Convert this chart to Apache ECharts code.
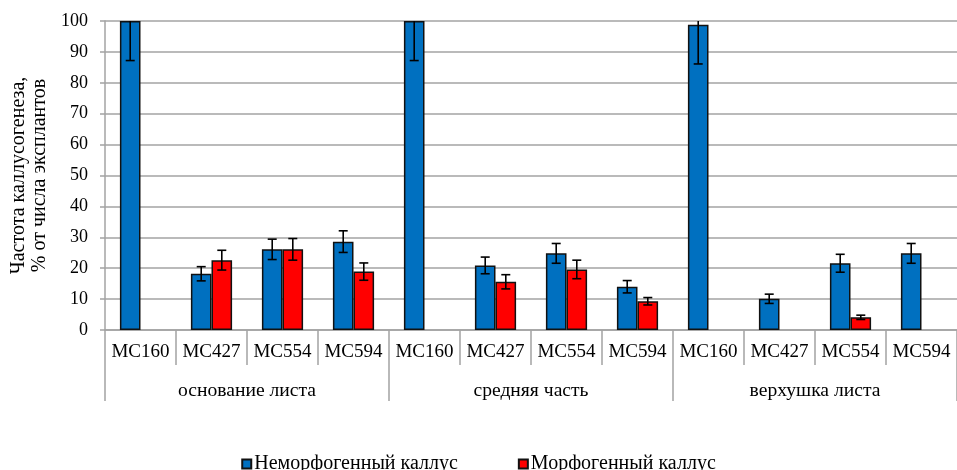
<!DOCTYPE html>
<html>
<head>
<meta charset="utf-8">
<script src="https://cdn.jsdelivr.net/npm/echarts@6/dist/echarts.min.js"></script>
<style>
  html, body { margin: 0; padding: 0; background: #ffffff; }
  #chart { width: 957px; height: 470px; }
</style>
</head>
<body>
<div id="chart"></div>
<script>
// Cultivars shown within each leaf zone
const cultivars = ['MC160', 'MC427', 'MC554', 'MC594',
                   'MC160', 'MC427', 'MC554', 'MC594',
                   'MC160', 'MC427', 'MC554', 'MC594'];
// Leaf zones (outer category level)
const leafZones = ['основание листа', 'средняя часть', 'верхушка листа'];

// Callus frequency, % of explants
const nonMorphogenic    = [100, 18.2, 26.1, 28.6, 100, 20.9, 24.8, 14.0, 98.8, 10.1, 21.6, 24.8];
const nonMorphogenicErr = [12.8, 2.3, 3.3, 3.5, 12.8, 2.7, 3.2, 2.0, 12.7, 1.5, 2.9, 3.2];
const morphogenic       = [null, 22.6, 26.1, 18.9, null, 15.6, 19.6, 9.3, null, null, 4.1, null];
const morphogenicErr    = [null, 3.2, 3.5, 2.8, null, 2.3, 3.0, 1.2, null, null, 0.7, null];

const yTicks = { min: 0, max: 100, step: 10 };
const seriesNames = ['Неморфогенный каллус', 'Морфогенный каллус'];

const FONT = 'Liberation Serif';
const GRID_COLOR = '#a3a3a3';
const BAR_RATIO = 0.29;

// Error bars centred on each of the two bars in a category
function errorBars(values, errors, side) {
  const data = [];
  values.forEach(function (v, i) {
    if (v != null && errors[i] != null) data.push([i, v - errors[i], v + errors[i]]);
  });
  return {
    type: 'custom',
    clip: true,
    z: 5,
    silent: true,
    data: data,
    encode: { x: 0, y: [1, 2] },
    renderItem: function (params, api) {
      const i = api.value(0);
      const lo = api.coord([i, api.value(1)]);
      const hi = api.coord([i, api.value(2)]);
      const band = api.size([1, 0])[0];
      const x = lo[0] + side * band * BAR_RATIO / 2;
      const cap = 4.5;
      const style = { stroke: '#000', lineWidth: 1.6 };
      return {
        type: 'group',
        children: [
          { type: 'line', shape: { x1: x, y1: lo[1], x2: x, y2: hi[1] }, style: style },
          { type: 'line', shape: { x1: x - cap, y1: lo[1], x2: x + cap, y2: lo[1] }, style: style },
          { type: 'line', shape: { x1: x - cap, y1: hi[1], x2: x + cap, y2: hi[1] }, style: style }
        ]
      };
    }
  };
}

const chart = echarts.init(document.getElementById('chart'), null, { renderer: 'canvas' });

chart.setOption({
  animation: false,
  backgroundColor: '#ffffff',
  textStyle: { fontFamily: FONT, color: '#000' },
  grid: { left: 105, top: 21, width: 864, height: 309, containLabel: false },
  legend: {
    data: seriesNames,
    left: 'center',
    top: 449,
    itemWidth: 9,
    itemHeight: 9,
    itemGap: 60,
    icon: 'rect',
    textStyle: { fontFamily: FONT, fontSize: 20, color: '#000', padding: [0, 0, 0, -2] }
  },
  xAxis: [
    {
      type: 'category',
      data: cultivars,
      position: 'bottom',
      axisLine: { lineStyle: { color: GRID_COLOR, width: 1.5 } },
      axisTick: { show: true, interval: 0, length: 35, lineStyle: { color: GRID_COLOR, width: 1.5 } },
      axisLabel: { interval: 0, fontFamily: FONT, fontSize: 19, color: '#000', margin: 13 },
      splitLine: { show: false }
    },
    {
      type: 'category',
      data: leafZones,
      position: 'bottom',
      axisLine: { show: false },
      axisTick: { show: true, interval: 0, length: 71, lineStyle: { color: GRID_COLOR, width: 1.5 } },
      axisLabel: { interval: 0, fontFamily: FONT, fontSize: 19.6, color: '#000', margin: 51 },
      splitLine: { show: false }
    }
  ],
  yAxis: {
    type: 'value',
    min: yTicks.min,
    max: yTicks.max,
    interval: yTicks.step,
    name: 'Частота каллусогенеза,\n% от числа эксплантов',
    nameLocation: 'middle',
    nameRotate: 90,
    nameGap: 47,
    nameTextStyle: { fontFamily: FONT, fontSize: 20, color: '#000', lineHeight: 21, align: 'center' },
    axisLine: { show: true, lineStyle: { color: GRID_COLOR, width: 1.5 } },
    axisTick: { show: true, length: 5, lineStyle: { color: GRID_COLOR, width: 1.5 } },
    axisLabel: { fontFamily: FONT, fontSize: 18, color: '#000', margin: 17 },
    splitLine: { show: true, lineStyle: { color: GRID_COLOR, width: 1.5 } }
  },
  series: [
    {
      name: seriesNames[0],
      type: 'bar',
      data: nonMorphogenic,
      barWidth: (BAR_RATIO * 100) + '%',
      barGap: '0%',
      itemStyle: { color: '#0070C0', borderColor: '#111', borderWidth: 1.5 }
    },
    {
      name: seriesNames[1],
      type: 'bar',
      data: morphogenic,
      barWidth: (BAR_RATIO * 100) + '%',
      barGap: '0%',
      itemStyle: { color: '#FF0000', borderColor: '#111', borderWidth: 1.5 }
    },
    errorBars(nonMorphogenic, nonMorphogenicErr, -1),
    errorBars(morphogenic, morphogenicErr, 1)
  ]
});
</script>
</body>
</html>
